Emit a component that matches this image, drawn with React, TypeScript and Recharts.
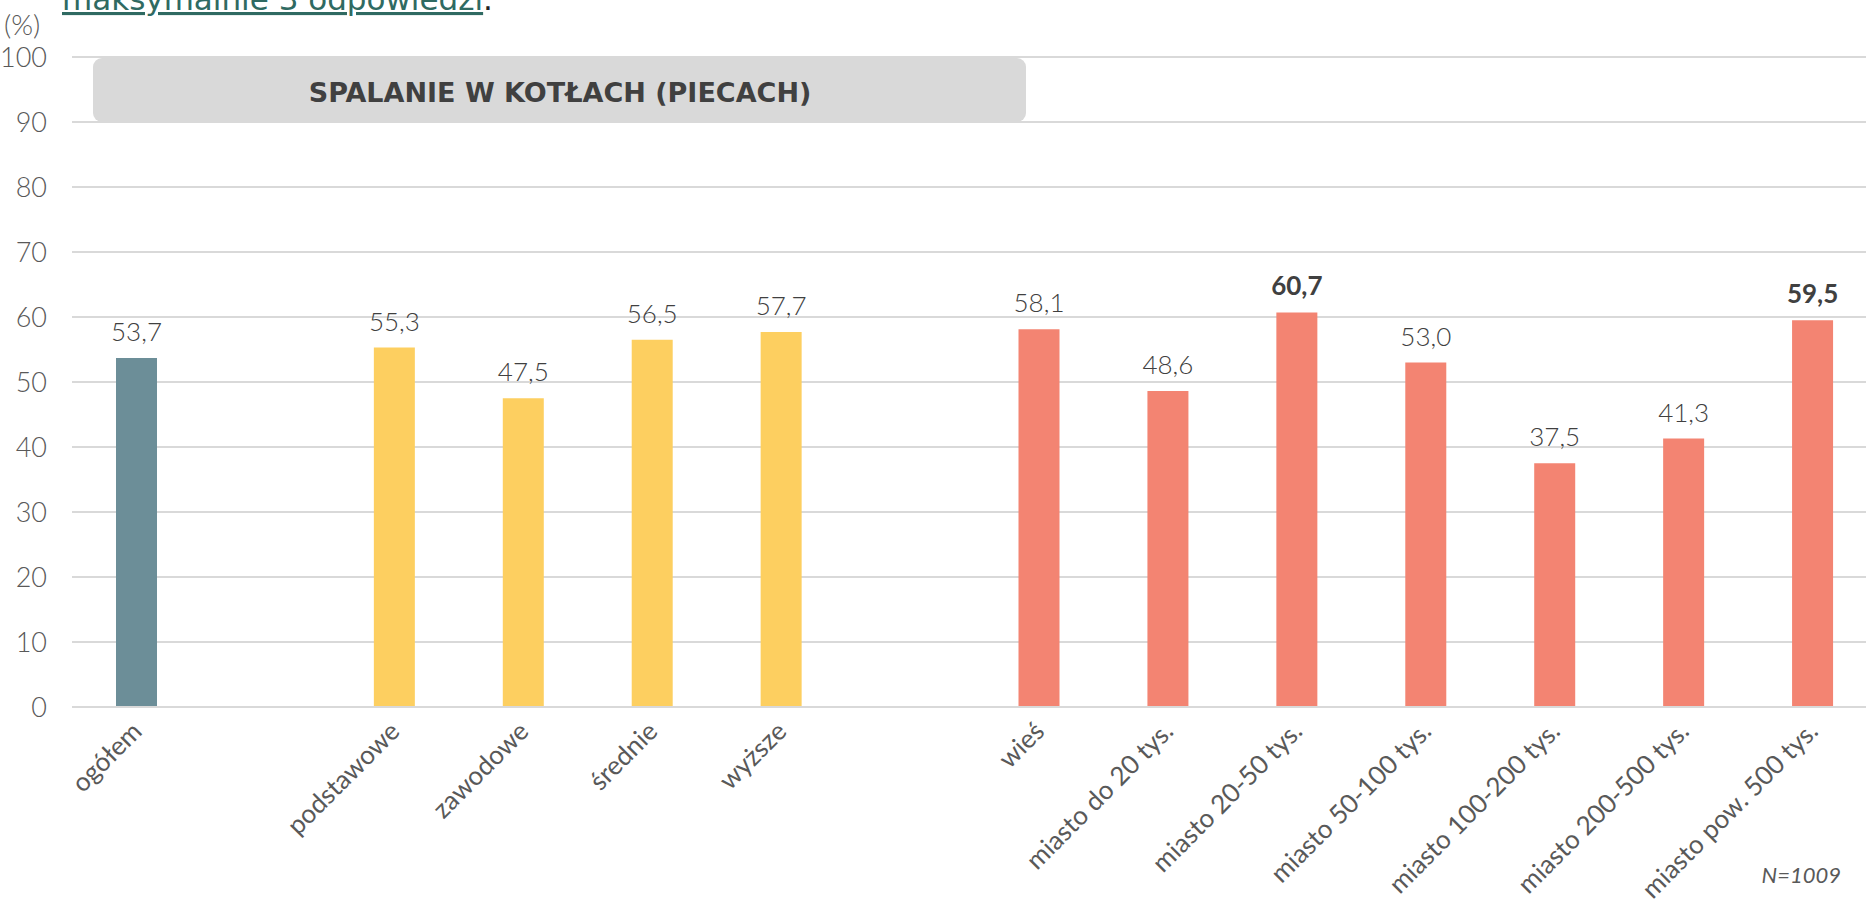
import React from 'react';
import { BarChart, Bar, XAxis, YAxis, CartesianGrid, Cell, LabelList } from 'recharts';

// empty strings are spacer slots between the groups
const categories = [
  'ogółem',
  '',
  'podstawowe',
  'zawodowe',
  'średnie',
  'wyższe',
  '',
  'wieś',
  'miasto do 20 tys.',
  'miasto 20-50 tys.',
  'miasto 50-100 tys.',
  'miasto 100-200 tys.',
  'miasto 200-500 tys.',
  'miasto pow. 500 tys.',
];
const values: (number | null)[] = [53.7, null, 55.3, 47.5, 56.5, 57.7, null, 58.1, 48.6, 60.7, 53.0, 37.5, 41.3, 59.5];
const groups = ['total', '', 'edu', 'edu', 'edu', 'edu', '', 'place', 'place', 'place', 'place', 'place', 'place', 'place'];
const highlighted = ['miasto 20-50 tys.', 'miasto pow. 500 tys.'];
const yTicks = [0, 10, 20, 30, 40, 50, 60, 70, 80, 90, 100];

const groupColors: Record<string, string> = {
  total: '#6C8E98',
  edu: '#FDCF60',
  place: '#F38472',
};

const data = categories.map((name, i) => ({ name, value: values[i], group: groups[i] }));
// LabelList skips the empty rows, so its index runs over the real bars only
const labelled = data.filter((d) => d.value != null);

const fmt = (v: number) => v.toFixed(1).replace('.', ',');

const XTick = (props: any) => {
  const { x, y, payload } = props;
  if (!payload.value) return null;
  const ax = x + 7;
  const ay = y + 24;
  return (
    <text
      x={ax}
      y={ay}
      transform={`rotate(-45, ${ax}, ${ay})`}
      textAnchor="end"
      fontFamily="Lato, 'Liberation Sans', sans-serif"
      fontSize={26}
      fill="#595959"
    >
      {payload.value}
    </text>
  );
};

const ValueLabel = (props: any) => {
  const { x, y, width, value, index } = props;
  if (value == null) return null;
  const row = labelled[index];
  const bold = row && highlighted.includes(row.name);
  return (
    <text
      x={x + width / 2}
      y={y - 17}
      textAnchor="middle"
      fontFamily="Lato, 'Liberation Sans', sans-serif"
      fontSize={26}
      fontWeight={bold ? 700 : 300}
      fill="#404040"
    >
      {fmt(value)}
    </text>
  );
};

export default function App() {
  return (
    <div style={{ position: 'absolute', left: 0, top: 0, width: 1866, height: 903, overflow: 'hidden', background: '#fff' }}>
      <BarChart
        width={1880}
        height={903}
        data={data}
        margin={{ top: 57, right: 3, bottom: 136, left: 0 }}
        barSize={41}
      >
        <CartesianGrid vertical={false} stroke="#D9D9D9" strokeWidth={2} />
        <XAxis
          dataKey="name"
          interval={0}
          height={60}
          tickLine={false}
          tickSize={0}
          tick={<XTick />}
          axisLine={{ stroke: '#D9D9D9', strokeWidth: 2 }}
        />
        <YAxis
          domain={[0, 100]}
          ticks={yTicks}
          width={72}
          axisLine={false}
          tickLine={false}
          tickSize={0}
          tickMargin={25}
          tick={{ fontFamily: "Lato, 'Liberation Sans', sans-serif", fontSize: 27, fontWeight: 300, fill: '#595959' }}
        />
        <Bar dataKey="value" isAnimationActive={false}>
          {data.map((d, i) => (
            <Cell key={i} fill={groupColors[d.group] || 'transparent'} />
          ))}
          <LabelList dataKey="value" content={<ValueLabel />} />
        </Bar>
      </BarChart>
      <svg
        width={1866}
        height={903}
        style={{ position: 'absolute', left: 0, top: 0, pointerEvents: 'none' }}
      >
        <text x={62} y={10} fontFamily="'DejaVu Sans', sans-serif" fontSize={31} fill="#222">
          <tspan fill="#2F6A62" textDecoration="underline">maksymalnie 3 odpowiedzi</tspan>.
        </text>
        <text x={4} y={35} fontFamily="Lato, 'Liberation Sans', sans-serif" fontSize={28} fontWeight={300} fill="#595959">(%)</text>
        <rect x={93} y={58} width={933} height={64} rx={9} fill="#D9D9D9" />
        <text
          x={560}
          y={102}
          textAnchor="middle"
          fontFamily="'DejaVu Sans', sans-serif"
          fontWeight={700}
          fontSize={27}
          fill="#404040"
        >
          SPALANIE W KOTŁACH (PIECACH)
        </text>
        <text
          x={1841}
          y={883}
          textAnchor="end"
          fontFamily="Lato, 'Liberation Sans', sans-serif"
          fontStyle="italic"
          fontSize={22}
          fill="#595959"
        >
          N=1009
        </text>
      </svg>
    </div>
  );
}
